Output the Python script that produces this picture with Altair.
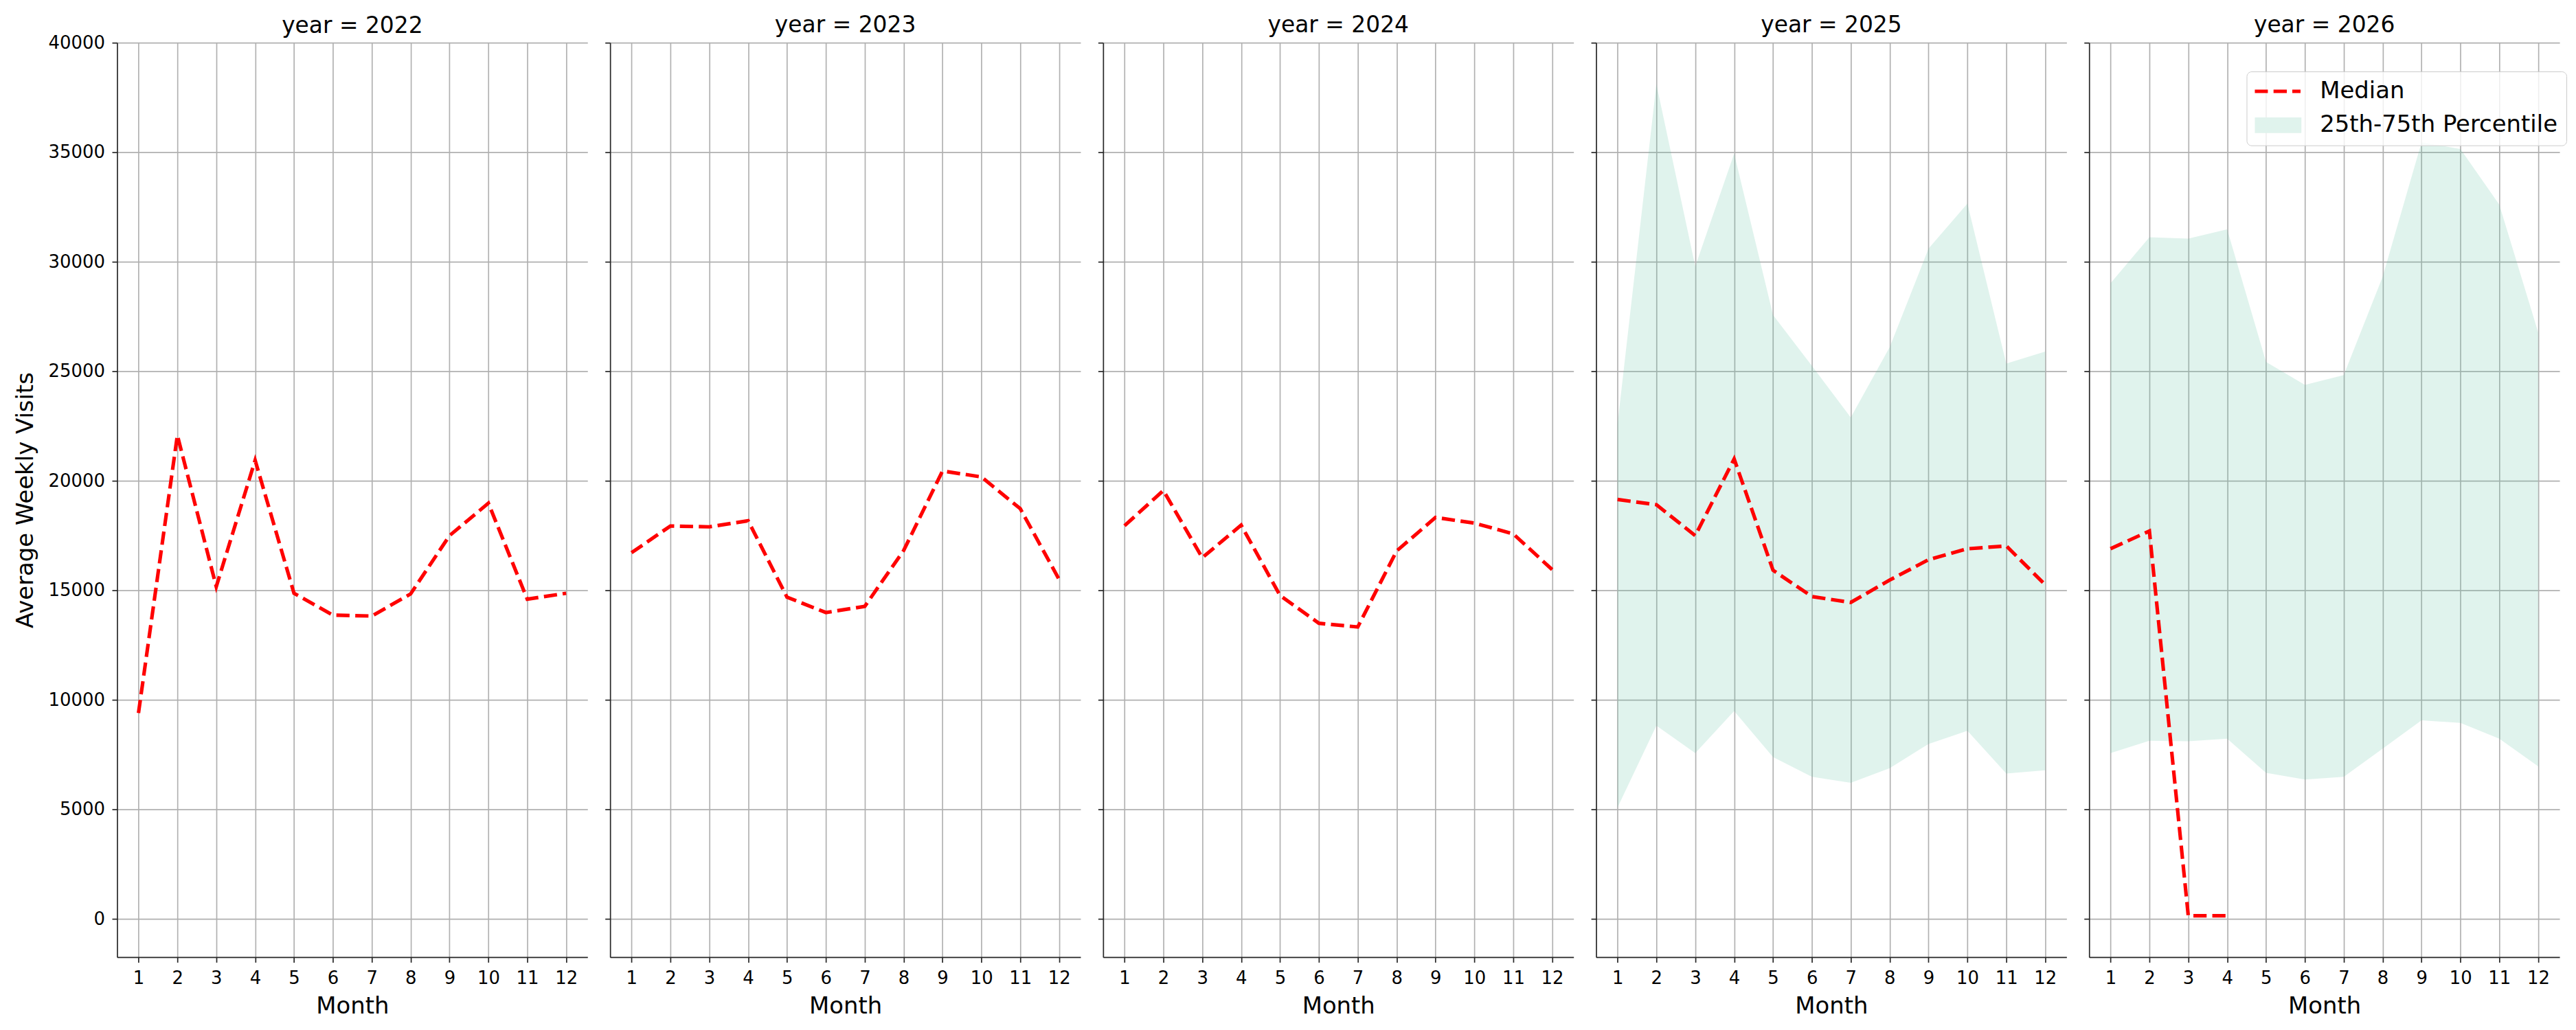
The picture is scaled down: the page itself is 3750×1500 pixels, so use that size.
import altair as alt
import pandas as pd
import numpy as np

months = list(range(1, 13))
years = [2022, 2023, 2024, 2025, 2026]

median_2022 = [9400, 22080, 15170, 20940, 14870, 13870, 13830, 14840, 17500, 18980, 14600, 14870]
median_2023 = [16720, 17940, 17900, 18180, 14690, 13990, 14270, 16820, 20450, 20180, 18730, 15500]
median_2024 = [17950, 19560, 16490, 17980, 14770, 13500, 13330, 16800, 18330, 18070, 17580, 15950]
median_2025 = [19150, 18910, 17500, 21000, 15920, 14720, 14450, 15470, 16400, 16900, 17030, 15260]
median_2026 = [16900, 17710, 150, 150, None, None, None, None, None, None, None, None]

q25_2025 = [5090, 8830, 7570, 9490, 7390, 6490, 6220, 6880, 7990, 8590, 6640, 6790]
q75_2025 = [22590, 38110, 29790, 34940, 27570, 25250, 22890, 26100, 30600, 32660, 25350, 25900]
q25_2026 = [7570, 8140, 8110, 8230, 6670, 6370, 6490, 7780, 9070, 8950, 8230, 6970]
q75_2026 = [29020, 31120, 31060, 31480, 25430, 24380, 24830, 29320, 35450, 35150, 32610, 26780]

series_names = ["Median", "25th-75th Percentile"]

medians = {2022: median_2022, 2023: median_2023, 2024: median_2024,
           2025: median_2025, 2026: median_2026}
q25s = {2025: q25_2025, 2026: q25_2026}
q75s = {2025: q75_2025, 2026: q75_2026}

rows = []
for y in years:
    for i, m in enumerate(months):
        med = medians[y][i]
        rows.append({
            "year": y,
            "month": m,
            "median": np.nan if med is None else med,
            "q25": q25s[y][i] if y in q25s else np.nan,
            "q75": q75s[y][i] if y in q75s else np.nan,
        })
df = pd.DataFrame(rows)

FONT = "DejaVu Sans"
RED = "#ff0000"
TEAL = "#66c2a5"
PALE = "#e0f3ed"
DASH = [19.3, 8.3]
LW = 5.2

# legend symbol shapes (unit = 17 px with symbol size 1156)
DASHED_PATH = ("M-1,-0.153H0.118V0.153H-1Z "
               "M0.606,-0.153H1.747V0.153H0.606Z "
               "M2.218,-0.153H2.924V0.153H2.218Z")
RECT_PATH = "M-1,-0.67H3V0.67H-1Z"

color_scale = alt.Scale(domain=series_names, range=[RED, PALE])
shape_scale = alt.Scale(domain=series_names, range=[DASHED_PATH, RECT_PATH])

the_legend = alt.Legend(
    title=None,
    orient="none",
    legendX=230,
    legendY=42,
    padding=12,
    rowPadding=15.5,
    labelOffset=61,
    labelFontSize=34,
    labelFont=FONT,
    labelColor="black",
    labelLimit=0,
    strokeColor="#cccccc",
    fillColor="rgba(255,255,255,0.8)",
    cornerRadius=7,
    symbolSize=1156,
    symbolStrokeWidth=0,
    symbolOpacity=1,
    zindex=5,
)

x_scale = alt.Scale(domain=[0.45, 12.55], nice=False, zero=False)
y_scale = alt.Scale(domain=[-1742, 40000], nice=False, zero=False)
y_values = list(range(0, 40001, 5000))


def panel(y, first=False, last=False):
    base = alt.Chart(df).transform_filter(alt.datum.year == y)
    x_enc = alt.X("month:Q", scale=x_scale,
                  axis=alt.Axis(values=months, title="Month", format="d"))
    if first:
        y_axis = alt.Axis(values=y_values, title="Average Weekly Visits", format="d")
    else:
        y_axis = alt.Axis(values=y_values, title=None, labels=False)
    line = base.transform_filter("isValid(datum.median)").mark_line(
        strokeWidth=LW, strokeDash=DASH, color=RED
    ).encode(
        x=x_enc,
        y=alt.Y("median:Q", scale=y_scale, axis=y_axis),
    )
    layers = [line]
    if y in q25s:
        area = base.mark_area(opacity=0.2, color=TEAL).encode(
            x=x_enc,
            y=alt.Y("q25:Q", scale=y_scale, axis=y_axis),
            y2="q75:Q",
        )
        layers = [area, line]
    if last:
        leg_layer = base.transform_filter("false").transform_calculate(
            series="'Median'"
        ).mark_point(filled=True, opacity=1, strokeWidth=0).encode(
            x=x_enc,
            y=alt.Y("median:Q", scale=y_scale, axis=y_axis),
            color=alt.Color("series:N", scale=color_scale, legend=the_legend),
            shape=alt.Shape("series:N", scale=shape_scale, legend=the_legend),
        )
        layers.append(leg_layer)
    return alt.layer(*layers).properties(
        width=687,
        height=1336,
        title=alt.TitleParams(f"year = {y}", fontSize=33, font=FONT, fontWeight="normal",
                              color="black", offset=7, frame="group",
                              dy=13 if first else 0),
    )


panels = [panel(y, first=(i == 0), last=(i == len(years) - 1)) for i, y in enumerate(years)]

chart = alt.hconcat(*panels, spacing=24).resolve_scale(
    color="independent", shape="independent"
).properties(
    padding={"left": 12, "top": 11, "right": 5, "bottom": 5},
    background="white",
).configure_view(stroke=None).configure_axis(
    domainColor="#262626",
    domainWidth=1.7,
    tickColor="#262626",
    tickWidth=1.7,
    tickSize=7.5,
    gridColor="#b0b0b0",
    gridWidth=1.67,
    labelFont=FONT,
    labelFontSize=26,
    labelColor="black",
    titleFont=FONT,
    titleFontSize=34,
    titleFontWeight="normal",
    titleColor="black",
).configure_axisX(
    labelPadding=10, titlePadding=11, labelFlush=False
).configure_axisY(
    labelPadding=10.5, titlePadding=16
)

chart.save("out.html", embed_options={"renderer": "svg", "actions": False})
